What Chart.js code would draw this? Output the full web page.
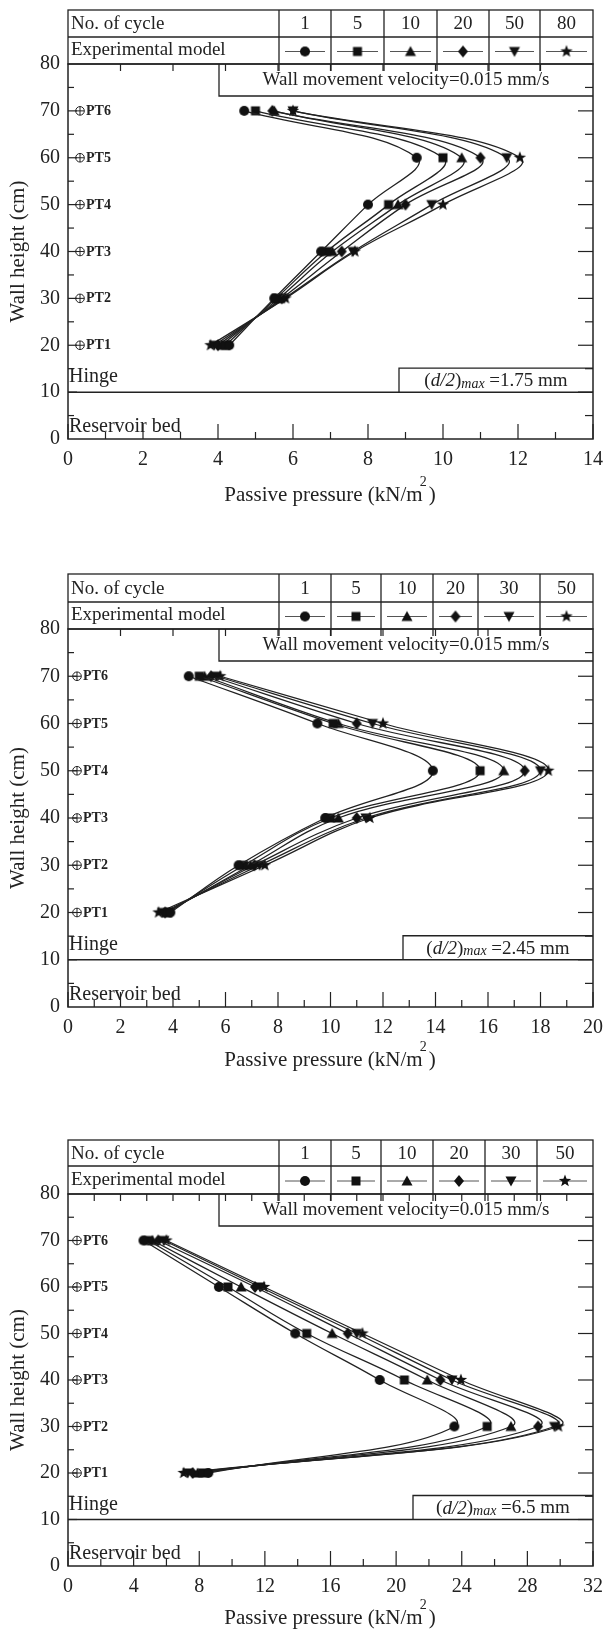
<!DOCTYPE html>
<html>
<head>
<meta charset="utf-8">
<script src="https://cdn.jsdelivr.net/npm/chart.js@4.4.1/dist/chart.umd.min.js"></script>
<style>
  body { margin: 0; background: #fff; width: 605px; }
  canvas { display: block; }
</style>
</head>
<body>
<canvas id="panelA" width="605" height="520"></canvas>
<canvas id="panelB" width="605" height="555"></canvas>
<canvas id="panelC" width="605" height="557"></canvas>
<script>
const INK = '#222';
const SERIF = '"Liberation Serif", "Times New Roman", serif';

// wall heights of the pressure transducers (cm), top to bottom
const heights = [70, 60, 50, 40, 30, 20];
const ptNames = ['PT6', 'PT5', 'PT4', 'PT3', 'PT2', 'PT1'];
const markers = ['circle', 'square', 'up', 'diamond', 'down', 'star'];

// panel A: (d/2)max = 1.75 mm
const cyclesA = ['1', '5', '10', '20', '50', '80'];
const pressureA = [
  [4.7, 9.3, 8.0, 6.75, 5.5, 4.3],
  [5.0, 10.0, 8.55, 6.9, 5.55, 4.2],
  [5.5, 10.5, 8.8, 7.05, 5.62, 4.1],
  [5.45, 11.0, 9.0, 7.3, 5.7, 4.0],
  [6.0, 11.7, 9.7, 7.6, 5.77, 3.9],
  [6.0, 12.05, 10.0, 7.65, 5.8, 3.8]
];

// panel B: (d/2)max = 2.45 mm
const cyclesB = ['1', '5', '10', '20', '30', '50'];
const pressureB = [
  [4.6, 9.5, 13.9, 9.8, 6.5, 3.9],
  [5.0, 10.1, 15.7, 10.0, 6.7, 3.8],
  [5.2, 10.3, 16.6, 10.3, 6.95, 3.75],
  [5.45, 11.0, 17.4, 11.0, 7.1, 3.7],
  [5.65, 11.6, 18.0, 11.35, 7.3, 3.6],
  [5.8, 12.0, 18.3, 11.5, 7.5, 3.45]
];

// panel C: (d/2)max = 6.5 mm
const cyclesC = ['1', '5', '10', '20', '30', '50'];
const pressureC = [
  [4.6, 9.2, 13.85, 19.0, 23.55, 8.55],
  [4.9, 9.75, 14.55, 20.5, 25.55, 8.2],
  [5.15, 10.55, 16.1, 21.9, 27.0, 7.9],
  [5.5, 11.4, 17.05, 22.7, 28.65, 7.6],
  [5.85, 11.7, 17.6, 23.4, 29.65, 7.3],
  [6.0, 11.95, 17.95, 23.95, 29.9, 7.05]
];

function markerCanvas(kind) {
  const c = document.createElement('canvas');
  c.width = 16; c.height = 16;
  const g = c.getContext('2d');
  g.fillStyle = '#111';
  g.translate(8, 8);
  g.beginPath();
  if (kind === 'circle') g.arc(0, 0, 5, 0, Math.PI * 2);
  else if (kind === 'square') g.rect(-4.5, -4.5, 9, 9);
  else if (kind === 'up') { g.moveTo(0, -5.5); g.lineTo(5.5, 4.5); g.lineTo(-5.5, 4.5); }
  else if (kind === 'down') { g.moveTo(0, 5.5); g.lineTo(5.5, -4.5); g.lineTo(-5.5, -4.5); }
  else if (kind === 'diamond') { g.moveTo(0, -6); g.lineTo(5, 0); g.lineTo(0, 6); g.lineTo(-5, 0); }
  else if (kind === 'star') {
    for (let i = 0; i < 10; i++) {
      const r = i % 2 ? 2.7 : 6.5;
      const a = -Math.PI / 2 + i * Math.PI / 5;
      g.lineTo(r * Math.cos(a), r * Math.sin(a));
    }
  }
  g.closePath();
  g.fill();
  return c;
}
const markerImgs = markers.map(markerCanvas);

function font(size, style) {
  return (style ? style + ' ' : '') + size + 'px ' + SERIF;
}

function makeDecor(p) {
  return {
    id: 'decor',
    afterDraw(chart) {
      const { ctx, chartArea: a, scales: { x, y } } = chart;
      const w = a.right - a.left;
      const seg = (x1, y1, x2, y2) => { ctx.beginPath(); ctx.moveTo(x1, y1); ctx.lineTo(x2, y2); ctx.stroke(); };
      ctx.save();
      ctx.strokeStyle = INK;
      ctx.fillStyle = INK;

      // frame and ticks (all inward)
      ctx.lineWidth = 1.5;
      ctx.strokeRect(a.left, a.top, w, a.bottom - a.top);
      ctx.lineWidth = 1.2;
      for (let v = 0; v <= p.xMax + 1e-9; v += p.xMinor) {
        const px = x.getPixelForValue(v);
        const major = Math.abs(v / p.xStep - Math.round(v / p.xStep)) < 1e-6;
        seg(px, a.bottom, px, a.bottom - (major ? 15 : 7));
      }
      for (let k = 1; k < p.topDiv; k++) {
        const px = a.left + k * w / p.topDiv;
        seg(px, a.top, px, a.top + 7);
      }
      for (let v = 5; v < 80; v += 5) {
        const py = y.getPixelForValue(v);
        const major = v % 10 === 0;
        seg(a.left, py, a.left + (major ? 9 : 6), py);
        seg(a.right, py, a.right - (major ? 15 : 8), py);
      }

      // hinge line
      ctx.lineWidth = 1.5;
      const yHinge = y.getPixelForValue(10);
      seg(a.left, yHinge, a.right, yHinge);

      ctx.textBaseline = 'middle';
      ctx.textAlign = 'left';
      ctx.font = font(20);
      ctx.fillText('Hinge', a.left + 1, yHinge - 15);
      ctx.fillText('Reservoir bed', a.left + 1, a.bottom - 12);

      // transducer marks
      ctx.lineWidth = 1;
      ctx.font = font(14, 'bold');
      heights.forEach((h, i) => {
        const py = y.getPixelForValue(h);
        const cx = p.ptX;
        ctx.beginPath(); ctx.arc(cx, py, 4.3, 0, Math.PI * 2); ctx.stroke();
        seg(cx - 4.3, py, cx + 4.3, py);
        seg(cx, py - 4.3, cx, py + 4.3);
        ctx.fillText(ptNames[i], cx + 6, py + 0.5);
      });

      // velocity box
      ctx.lineWidth = 1.3;
      ctx.beginPath();
      ctx.moveTo(p.velLeft, a.top);
      ctx.lineTo(p.velLeft, a.top + 32);
      ctx.lineTo(a.right, a.top + 32);
      ctx.stroke();
      ctx.textAlign = 'center';
      ctx.font = font(19);
      ctx.fillText('Wall movement velocity=0.015 mm/s', (p.velLeft + a.right) / 2, a.top + 16);

      // (d/2)max box
      const boxTop = yHinge - 24;
      ctx.beginPath();
      ctx.moveTo(p.dLeft, yHinge);
      ctx.lineTo(p.dLeft, boxTop);
      ctx.lineTo(a.right, boxTop);
      ctx.stroke();
      const parts = [
        ['(', font(19)], ['d/2', font(19, 'italic')], [')', font(19)],
        ['max', font(14, 'italic'), 3], [' =' + p.dMax + ' mm', font(19)]
      ];
      let total = 0;
      parts.forEach(pt => { ctx.font = pt[1]; total += ctx.measureText(pt[0]).width; });
      let tx = (p.dLeft + a.right) / 2 - total / 2;
      ctx.textAlign = 'left';
      parts.forEach(pt => {
        ctx.font = pt[1];
        ctx.fillText(pt[0], tx, boxTop + 13 + (pt[2] || 0));
        tx += ctx.measureText(pt[0]).width;
      });

      // legend table above the plot
      const tTop = p.tableTop, tMid = p.tableMid, tBot = a.top;
      ctx.lineWidth = 1.3;
      ctx.strokeRect(a.left, tTop, w, tBot - tTop);
      seg(a.left, tMid, a.right, tMid);
      p.cols.forEach(cx => seg(cx, tTop, cx, tBot + 7));
      ctx.font = font(19);
      ctx.fillText('No. of cycle', a.left + 3, (tTop + tMid) / 2 + 1);
      ctx.fillText('Experimental model', a.left + 3, (tMid + tBot) / 2);
      const edges = p.cols.concat([a.right]);
      ctx.textAlign = 'center';
      ctx.lineWidth = 1;
      ctx.strokeStyle = '#555';
      for (let i = 0; i < 6; i++) {
        const l = edges[i], r = edges[i + 1], c = (l + r) / 2;
        ctx.fillText(p.cycles[i], c, (tTop + tMid) / 2 + 1);
        const ym = (tMid + tBot) / 2 + 1;
        seg(l + 6, ym, r - 6, ym);
        const img = markerImgs[i];
        ctx.drawImage(img, c - img.width / 2, ym - img.height / 2);
      }
      ctx.strokeStyle = INK;

      // axis titles
      ctx.font = font(21);
      const xt = 'Passive pressure (kN/m';
      const w1 = ctx.measureText(xt).width;
      ctx.font = font(14);
      const w2 = ctx.measureText('2').width;
      ctx.font = font(21);
      const w3 = ctx.measureText(')').width;
      let sx = (a.left + a.right) / 2 - (w1 + w2 + w3) / 2;
      ctx.textAlign = 'left';
      ctx.fillText(xt, sx, p.xTitleY);
      ctx.font = font(14);
      ctx.fillText('2', sx + w1 - 3, p.xTitleY - 13);
      ctx.font = font(21);
      ctx.fillText(')', sx + w1 + w2 - 1, p.xTitleY);

      ctx.translate(18, (a.top + a.bottom) / 2);
      ctx.rotate(-Math.PI / 2);
      ctx.textAlign = 'center';
      ctx.fillText('Wall height (cm)', 0, 0);
      ctx.restore();
    }
  };
}

function drawPanel(id, p) {
  const canvas = document.getElementById(id);
  const datasets = p.series.map((vals, i) => ({
    label: p.cycles[i],
    data: heights.map((h, j) => ({ x: vals[j], y: h })),
    showLine: true,
    borderColor: INK,
    borderWidth: 1.3,
    tension: 0.4,
    pointStyle: markerImgs[i],
    pointRadius: 5,
    fill: false
  }));
  const tickFont = { family: SERIF, size: 20 };
  return new Chart(canvas, {
    type: 'scatter',
    data: { datasets },
    options: {
      responsive: false,
      animation: false,
      layout: { padding: { left: 0, right: 12, top: p.top, bottom: 0 } },
      plugins: { legend: { display: false }, tooltip: { enabled: false } },
      scales: {
        x: {
          type: 'linear', position: 'bottom', min: 0, max: p.xMax,
          ticks: { stepSize: p.xStep, autoSkip: false, maxRotation: 0, padding: 9, color: INK, font: tickFont },
          grid: { display: false, drawTicks: false },
          border: { display: false },
          afterFit(s) { s.height = canvas.height - p.bottom; s.paddingLeft = 0; s.paddingRight = 0; }
        },
        y: {
          type: 'linear', min: 0, max: 80,
          ticks: { stepSize: 10, autoSkip: false, padding: 8, color: INK, font: tickFont },
          grid: { display: false, drawTicks: false },
          border: { display: false },
          afterFit(s) { s.width = 68; s.paddingTop = 0; s.paddingBottom = 0; }
        }
      }
    },
    plugins: [makeDecor(p)]
  });
}

drawPanel('panelA', {
  series: pressureA, cycles: cyclesA, dMax: '1.75',
  xMax: 14, xStep: 2, xMinor: 1, topDiv: 10,
  top: 64, bottom: 439, tableTop: 10, tableMid: 37, xTitleY: 495,
  cols: [279, 331, 384, 437, 489, 540],
  velLeft: 219, dLeft: 399, ptX: 80
});
drawPanel('panelB', {
  series: pressureB, cycles: cyclesB, dMax: '2.45',
  xMax: 20, xStep: 2, xMinor: 1, topDiv: 10,
  top: 109, bottom: 487, tableTop: 54, tableMid: 82, xTitleY: 540,
  cols: [279, 331, 381, 433, 478, 540],
  velLeft: 219, dLeft: 403, ptX: 77
});
drawPanel('panelC', {
  series: pressureC, cycles: cyclesC, dMax: '6.5',
  xMax: 32, xStep: 4, xMinor: 2, topDiv: 20,
  top: 119, bottom: 491, tableTop: 65, tableMid: 91, xTitleY: 543,
  cols: [279, 331, 381, 433, 485, 537],
  velLeft: 219, dLeft: 413, ptX: 77
});
</script>
</body>
</html>
